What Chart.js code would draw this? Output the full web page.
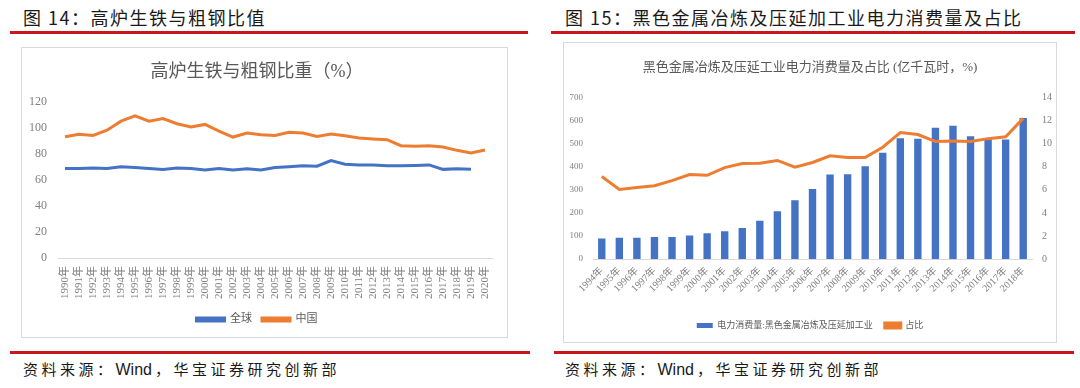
<!DOCTYPE html>
<html>
<head>
<meta charset="utf-8">
<script src="https://cdn.jsdelivr.net/npm/chart.js@4.4.1/dist/chart.umd.min.js"></script>
<style>
  html, body { margin: 0; padding: 0; background: #fff; }
  body { width: 1080px; height: 388px; position: relative; overflow: hidden;
         font-family: "Noto Sans CJK SC", "Liberation Sans", sans-serif; }
  .hdr { position: absolute; top: 4px; font-size: 18px; letter-spacing: 1.5px; color: #1a1a1a; white-space: nowrap; }
  .red { position: absolute; height: 3px; background: #c8161d; }
  .box { position: absolute; border: 1px solid #d9d9d9; box-sizing: border-box; }
  .box canvas { position: absolute; left: 0; top: 0; }
  .src { position: absolute; top: 358px; font-size: 15px; letter-spacing: 3.5px; color: #1a1a1a; white-space: nowrap; }
  .src span { letter-spacing: 0; font-family: "Liberation Sans Narrow", "Liberation Sans", sans-serif; font-size: 16px; margin-right: 3px; }
</style>
</head>
<body>
  <div class="hdr" style="left:23px">图 14：高炉生铁与粗钢比值</div>
  <div class="red" style="left:10px; width:518px; top:31px"></div>
  <div class="box" style="left:21px; top:47px; width:487px; height:291px">
    <canvas id="ratioChart" width="485" height="289"></canvas>
  </div>
  <div class="red" style="left:10px; width:520px; top:351px"></div>
  <div class="src" style="left:23px">资料来源：<span>Wind</span>，华宝证券研究创新部</div>

  <div class="hdr" style="left:565px">图 15：黑色金属冶炼及压延加工业电力消费量及占比</div>
  <div class="red" style="left:551px; width:524px; top:31px"></div>
  <div class="box" style="left:563px; top:42px; width:494px; height:301px">
    <canvas id="powerChart" width="492" height="299"></canvas>
  </div>
  <div class="red" style="left:554px; width:520px; top:351px"></div>
  <div class="src" style="left:565px">资料来源：<span>Wind</span>，华宝证券研究创新部</div>

<script>
// 图14 data: pig iron / crude steel ratio (%)
const ratioYears = ['1990年','1991年','1992年','1993年','1994年','1995年','1996年','1997年','1998年','1999年',
  '2000年','2001年','2002年','2003年','2004年','2005年','2006年','2007年','2008年','2009年',
  '2010年','2011年','2012年','2013年','2014年','2015年','2016年','2017年','2018年','2019年','2020年'];
const globalRatio = [68.6, 68.6, 69.0, 68.6, 70.0, 69.4, 68.6, 68.0, 69.0, 68.6,
  67.6, 68.6, 67.6, 68.4, 67.6, 69.4, 70.0, 70.7, 70.4, 74.7,
  72.0, 71.4, 71.4, 70.7, 70.7, 71.0, 71.4, 68.0, 68.4, 68.0, null];
const chinaRatio = [93.0, 95.0, 94.0, 98.0, 105.0, 109.0, 105.0, 107.0, 103.0, 100.5,
  102.5, 97.4, 92.8, 95.9, 94.6, 94.0, 96.4, 95.9, 93.3, 95.1,
  93.8, 92.0, 91.3, 90.8, 86.2, 85.7, 86.2, 85.2, 82.6, 80.6, 82.9];

// 图15 data: power use (亿千瓦时) and share (%)
const powerYears = ['1994年','1995年','1996年','1997年','1998年','1999年','2000年','2001年','2002年','2003年',
  '2004年','2005年','2006年','2007年','2008年','2009年','2010年','2011年','2012年','2013年',
  '2014年','2015年','2016年','2017年','2018年'];
const powerUse = [89, 92, 92, 95, 95, 102, 112, 120, 134, 166,
  207, 255, 304, 366, 368, 402, 461, 524, 521, 569,
  578, 532, 520, 518, 611];
const powerShare = [7.15, 6.04, 6.2, 6.36, 6.8, 7.32, 7.26, 7.93, 8.28, 8.3,
  8.55, 7.96, 8.37, 8.95, 8.8, 8.8, 9.7, 10.97, 10.8, 10.2,
  10.24, 10.2, 10.44, 10.6, 12.2];

const FONT = "'Liberation Serif', 'Noto Sans CJK SC', serif";
const TICK = '#808080';
const TITLE = '#595959';
const BLUE = '#4472c4';
const ORANGE = '#ed7d31';

new Chart(document.getElementById('ratioChart'), {
  type: 'line',
  data: {
    labels: ratioYears,
    datasets: [
      { label: '全球', data: globalRatio, borderColor: BLUE, backgroundColor: BLUE,
        borderWidth: 3, pointRadius: 0, tension: 0 },
      { label: '中国', data: chinaRatio, borderColor: ORANGE, backgroundColor: ORANGE,
        borderWidth: 3, pointRadius: 0, tension: 0 }
    ]
  },
  options: {
    responsive: false,
    animation: false,
    layout: { padding: { left: 0, right: 15, top: 0, bottom: 2 } },
    plugins: {
      title: {
        display: true, text: '高炉生铁与粗钢比重（%）', color: TITLE,
        font: { family: FONT, size: 18, weight: 'normal' }, padding: { top: 13, bottom: 19 }
      },
      legend: {
        position: 'bottom',
        labels: { color: TITLE, font: { family: FONT, size: 11 }, boxWidth: 28, boxHeight: 3, padding: 10 }
      },
      tooltip: { enabled: false }
    },
    scales: {
      x: {
        offset: true,
        grid: { display: false, drawTicks: false },
        border: { display: true, color: '#d9d9d9' },
        ticks: { color: TICK, font: { family: FONT, size: 11 }, maxRotation: 90, minRotation: 90,
          autoSkip: false, padding: 8 },
        afterFit: (s) => { s.height = 46; }
      },
      y: {
        min: 0, max: 120,
        grid: { display: false, drawTicks: false },
        border: { display: false },
        ticks: { stepSize: 20, color: TICK, font: { family: FONT, size: 12 }, padding: 11 },
        afterFit: (s) => { s.width = 36; }
      }
    }
  }
});

new Chart(document.getElementById('powerChart'), {
  data: {
    labels: powerYears,
    datasets: [
      { type: 'bar', label: '电力消费量:黑色金属冶炼及压延加工业', data: powerUse, yAxisID: 'y',
        backgroundColor: BLUE, borderWidth: 0, barPercentage: 0.42, categoryPercentage: 1, order: 2 },
      { type: 'line', label: '占比', data: powerShare, yAxisID: 'y1',
        borderColor: ORANGE, backgroundColor: ORANGE, borderWidth: 3, pointRadius: 0, tension: 0, order: 1 }
    ]
  },
  options: {
    responsive: false,
    animation: false,
    layout: { padding: { left: 0, right: 0, top: 0, bottom: 2 } },
    plugins: {
      title: {
        display: true, text: '黑色金属冶炼及压延工业电力消费量及占比 (亿千瓦时，%)', color: TITLE,
        font: { family: FONT, size: 13, weight: 'normal' }, padding: { top: 17, bottom: 22 }
      },
      legend: {
        position: 'bottom',
        labels: { color: TITLE, font: { family: FONT, size: 9 }, boxWidth: 16, boxHeight: 5, padding: 12,
          sort: (a, b) => a.datasetIndex - b.datasetIndex }
      },
      tooltip: { enabled: false }
    },
    scales: {
      x: {
        offset: true,
        grid: { display: false, drawTicks: false },
        border: { display: true, color: '#d9d9d9' },
        ticks: { color: TICK, font: { family: FONT, size: 10 }, maxRotation: 45, minRotation: 45,
          autoSkip: false, padding: 6 },
        afterFit: (s) => { s.height = 50; }
      },
      y: {
        position: 'left', min: 0, max: 700,
        grid: { display: false, drawTicks: false },
        border: { display: false },
        ticks: { stepSize: 100, color: TICK, font: { family: FONT, size: 9 }, padding: 10 },
        afterFit: (s) => { s.width = 29; }
      },
      y1: {
        position: 'right', min: 0, max: 14,
        grid: { display: false, drawTicks: false },
        border: { display: false },
        ticks: { stepSize: 2, color: TICK, font: { family: FONT, size: 10 }, padding: 10 },
        afterFit: (s) => { s.width = 24; }
      }
    }
  }
});
</script>
</body>
</html>
